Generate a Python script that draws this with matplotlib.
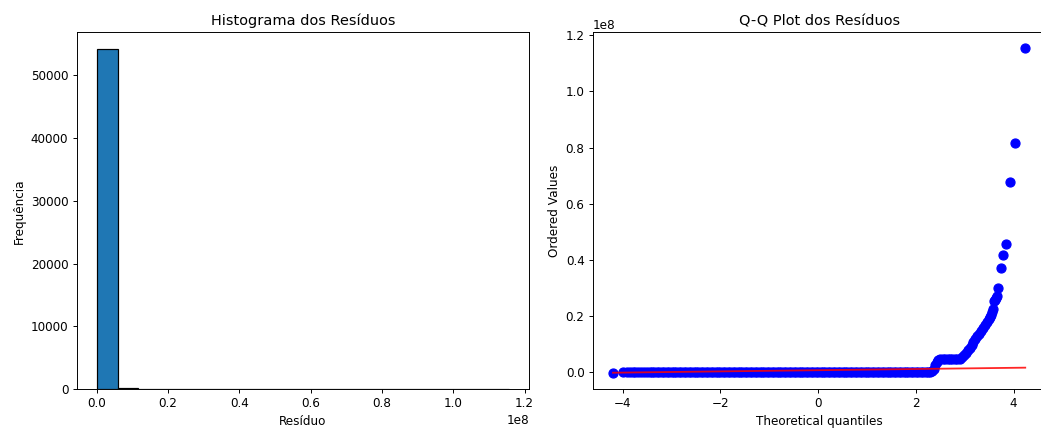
import numpy as np
import matplotlib
matplotlib.use("Agg")
import matplotlib.pyplot as plt

# Histogram of residuals: 20 equal bins between the smallest and largest residual
residuo_min = 0.16e6
residuo_max = 115.5e6
n_bins = 20
contagens = [54150, 160, 45, 15, 8, 4, 1, 2, 0, 0, 0, 1, 0, 0, 1, 0, 0, 0, 0, 1]

# Q-Q plot: theoretical normal quantiles vs ordered residuals
# flat body of the distribution (residuals close to zero)
quantis_corpo = [
    -4.20, -4.00, -3.92, -3.86, -3.80, -3.74, -3.68, -3.62, -3.56, -3.50,
    -3.45, -3.40, -3.35, -3.30, -3.25, -3.20, -3.15, -3.10, -3.05, -3.00,
    -2.95, -2.90, -2.85, -2.80, -2.75, -2.70, -2.65, -2.60, -2.55, -2.50,
    -2.45, -2.40, -2.35, -2.30, -2.25, -2.20, -2.15, -2.10, -2.05, -2.00,
    -1.95, -1.90, -1.85, -1.80, -1.75, -1.70, -1.65, -1.60, -1.55, -1.50,
    -1.45, -1.40, -1.35, -1.30, -1.25, -1.20, -1.15, -1.10, -1.05, -1.00,
    -0.95, -0.90, -0.85, -0.80, -0.75, -0.70, -0.65, -0.60, -0.55, -0.50,
    -0.45, -0.40, -0.35, -0.30, -0.25, -0.20, -0.15, -0.10, -0.05, 0.00,
    0.05, 0.10, 0.15, 0.20, 0.25, 0.30, 0.35, 0.40, 0.45, 0.50,
    0.55, 0.60, 0.65, 0.70, 0.75, 0.80, 0.85, 0.90, 0.95, 1.00,
    1.05, 1.10, 1.15, 1.20, 1.25, 1.30, 1.35, 1.40, 1.45, 1.50,
    1.55, 1.60, 1.65, 1.70, 1.75, 1.80, 1.85, 1.90, 1.95, 2.00,
    2.05, 2.10, 2.15, 2.20, 2.25, 2.30, 2.34,
]
valores_corpo = [
    -0.002e8, 0.0, 0.0, 0.0, 0.0, 0.0, 0.0, 0.0, 0.0, 0.0,
    0.0, 0.0, 0.0, 0.0, 0.0, 0.0, 0.0, 0.0, 0.0, 0.0,
    0.0, 0.0, 0.0, 0.0, 0.0, 0.0, 0.0, 0.0, 0.0, 0.0,
    0.0, 0.0, 0.0, 0.0, 0.0, 0.0, 0.0, 0.0, 0.0, 0.0,
    0.0, 0.0, 0.0, 0.0, 0.0, 0.0, 0.0, 0.0, 0.0, 0.0,
    0.0, 0.0, 0.0, 0.0, 0.0, 0.0, 0.0, 0.0, 0.0, 0.0,
    0.0, 0.0, 0.0, 0.0, 0.0, 0.0, 0.0, 0.0, 0.0, 0.0,
    0.0, 0.0, 0.0, 0.0, 0.0, 0.0, 0.0, 0.0, 0.0, 0.0,
    0.0, 0.0, 0.0, 0.0, 0.0, 0.0, 0.0, 0.0, 0.0, 0.0,
    0.0, 0.0, 0.0, 0.0, 0.0, 0.0, 0.0, 0.0, 0.0, 0.0,
    0.0, 0.0, 0.0, 0.0, 0.0, 0.0, 0.0, 0.0, 0.0, 0.0,
    0.0, 0.0, 0.0, 0.0, 0.0, 0.0, 0.0, 0.0, 0.0, 0.0,
    0.0, 0.0, 0.0, 0.0, 0.0, 0.0, 0.002e8,
]
# upper tail: small plateau near 2.5 and the steep climb
quantis_cauda = [
    2.37, 2.40, 2.43, 2.46, 2.50, 2.55, 2.60, 2.65, 2.70, 2.75,
    2.80, 2.85, 2.90, 2.94, 2.98, 3.02, 3.06, 3.10, 3.14, 3.18,
    3.22, 3.26, 3.30, 3.34, 3.38, 3.42, 3.46, 3.49, 3.52, 3.54,
    3.56, 3.58, 3.60, 3.62, 3.64, 3.67, 3.69, 3.74, 3.79, 3.85,
    3.92, 4.04, 4.24,
]
valores_cauda = [
    0.012e8, 0.025e8, 0.036e8, 0.043e8, 0.045e8, 0.045e8, 0.045e8, 0.045e8, 0.045e8, 0.045e8,
    0.045e8, 0.046e8, 0.048e8, 0.053e8, 0.060e8, 0.068e8, 0.077e8, 0.087e8, 0.097e8, 0.107e8,
    0.117e8, 0.127e8, 0.137e8, 0.147e8, 0.157e8, 0.168e8, 0.180e8, 0.188e8, 0.196e8, 0.204e8,
    0.215e8, 0.226e8, 0.252e8, 0.256e8, 0.262e8, 0.270e8, 0.300e8, 0.370e8, 0.417e8, 0.455e8,
    0.678e8, 0.815e8, 1.156e8,
]

# least-squares fit line drawn over the quantile range
reta_x = [-4.20, 4.24]
reta_y = [-0.0025e8, 0.0155e8]

fig = plt.figure(figsize=(12.0, 4.957), dpi=86.75)
ax1 = fig.add_axes([0.0737, 0.0953, 0.4345, 0.8295])
ax2 = fig.add_axes([0.5696, 0.0953, 0.4345, 0.8295])

bordas = np.linspace(residuo_min, residuo_max, n_bins + 1)
ax1.hist(bordas[:-1], bins=bordas, weights=contagens, edgecolor='black')
ax1.set_xlim(-0.0561e8, 1.2126e8)
ax1.set_ylim(0, 56850)
ax1.set_title('Histograma dos Resíduos')
ax1.set_xlabel('Resíduo')
ax1.set_ylabel('Frequência')

ax2.plot(quantis_corpo + quantis_cauda, valores_corpo + valores_cauda, 'bo', markersize=7.5)
ax2.plot(reta_x, reta_y, 'r-', alpha=0.85)
ax2.set_xlim(-4.61, 4.65)
ax2.set_ylim(-0.0606e8, 1.2106e8)
ax2.set_title('Q-Q Plot dos Resíduos')
ax2.set_xlabel('Theoretical quantiles')
ax2.set_ylabel('Ordered Values')

fig.savefig('out.png', dpi=86.75)
